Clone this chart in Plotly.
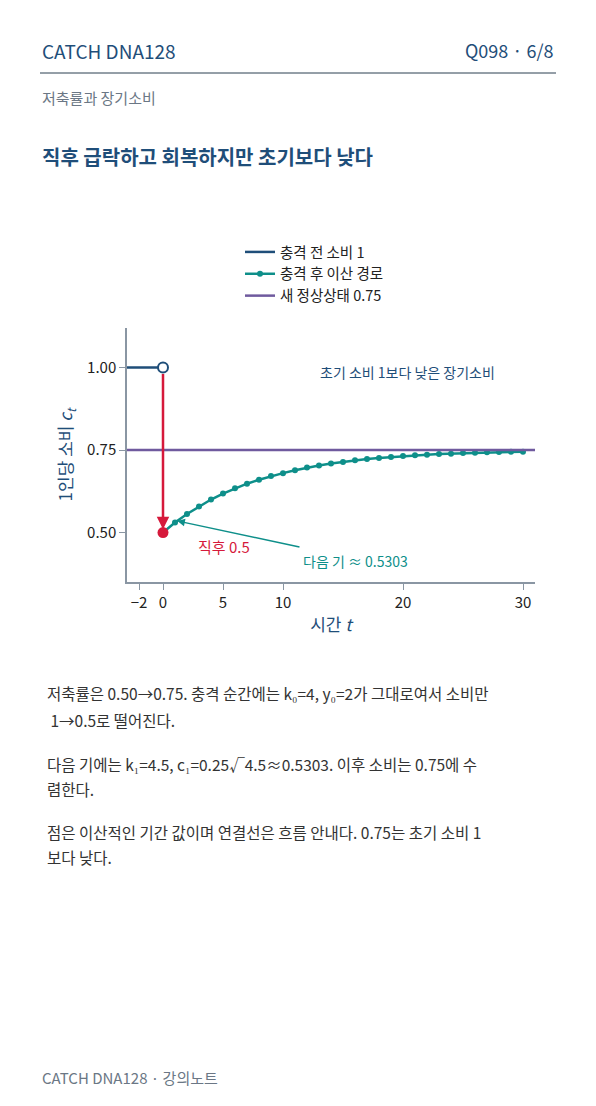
import plotly.graph_objects as go

FONT = "Noto Sans CJK KR"
NAVY = "#1f4e79"
TEAL = "#0e8f8a"
PURPLE = "#6f5a9e"
RED = "#d6193b"

# data
pre_t = [-3, 0]
pre_c = [1.0, 1.0]
path_t = list(range(0, 31))
path_c = [0.5, 0.5303, 0.556, 0.579, 0.600, 0.618, 0.634, 0.648, 0.660, 0.671,
          0.680, 0.689, 0.697, 0.703, 0.709, 0.714, 0.719, 0.723, 0.726, 0.729,
          0.732, 0.734, 0.736, 0.738, 0.739, 0.741, 0.742, 0.743, 0.744, 0.745, 0.745]
ss_t = [-3, 31]
ss_c = [0.75, 0.75]
x_ticks = [-2, 0, 5, 10, 20, 30]
y_ticks = [0.5, 0.75, 1.0]

# page offset from the browser body margin
OFF = 8
W, H = 596 - 2 * OFF, 1106 - 2 * OFF
L, R, T, B = 127, 535, 328, 582


def px(X):
    return (X - L) / (R - L)


def py(Y):
    return (B - Y) / (B - T)


fig = go.Figure()
fig.add_trace(go.Scatter(x=pre_t, y=pre_c, mode="lines", name="충격 전 소비 1",
                         line=dict(color=NAVY, width=2.5)))
fig.add_trace(go.Scatter(x=path_t, y=path_c, mode="lines+markers", name="충격 후 이산 경로",
                         line=dict(color=TEAL, width=2.5), marker=dict(size=6, color=TEAL)))
fig.add_trace(go.Scatter(x=ss_t, y=ss_c, mode="lines", name="새 정상상태 0.75",
                         line=dict(color=PURPLE, width=2.5)))
fig.add_trace(go.Scatter(x=[0], y=[1.0], mode="markers", showlegend=False,
                         marker=dict(size=10, color="white", line=dict(color=NAVY, width=2))))
fig.add_trace(go.Scatter(x=[0], y=[0.5], mode="markers", showlegend=False,
                         marker=dict(size=11, color=RED)))

ann = []
# shock arrow
ann.append(dict(x=0, y=0.51, ax=0, ay=0.985, xref="x", yref="y", axref="x", ayref="y",
                text="", showarrow=True, arrowhead=2, arrowsize=1, arrowwidth=2.5, arrowcolor=RED))
ann.append(dict(x=1.2, y=0.535, ax=11.5, ay=0.455, xref="x", yref="y", axref="x", ayref="y",
                text="", showarrow=True, arrowhead=2, arrowsize=1, arrowwidth=1.5, arrowcolor=TEAL))
ann.append(dict(x=16, y=0.415, xref="x", yref="y", text="다음 기 ≈ 0.5303", showarrow=False,
                font=dict(size=14, color=TEAL)))
ann.append(dict(x=5.1, y=0.458, xref="x", yref="y", text="직후 0.5", showarrow=False,
                font=dict(size=15, color=RED)))
ann.append(dict(x=20.4, y=0.986, xref="x", yref="y", text="초기 소비 1보다 낮은 장기소비",
                showarrow=False, font=dict(size=14, color=NAVY)))


# page texts
def txt(X, Y, s, size, color, anchor="left", bold=False):
    ann.append(dict(x=px(X), y=py(Y), xref="paper", yref="paper", xanchor=anchor,
                    yanchor="middle", text=f"<b>{s}</b>" if bold else s, showarrow=False,
                    font=dict(size=size, color=color, family=FONT), align="left"))


txt(40, 50, "CATCH DNA128", 19, NAVY)
txt(556, 50, "Q098 · 6/8", 18, NAVY, anchor="right")
txt(40, 97, "저축률과 장기소비", 15, "#6b7785")
txt(40, 156, "직후 급락하고 회복하지만 초기보다 낮다", 20, NAVY, bold=True)
body = [
    (693, "저축률은 0.50→0.75. 충격 순간에는 k₀=4, y₀=2가 그대로여서 소비만"),
    (720, " 1→0.5로 떨어진다."),
    (764, "다음 기에는 k₁=4.5, c₁=0.25√4.5≈0.5303. 이후 소비는 0.75에 수"),
    (789, "렴한다."),
    (832, "점은 이산적인 기간 값이며 연결선은 흐름 안내다. 0.75는 초기 소비 1"),
    (857, "보다 낮다."),
]
for Y, s in body:
    txt(45, Y, s, 15.5, "#333333")
txt(40, 1077, "CATCH DNA128 · 강의노트", 15, "#6b7785")

fig.update_layout(
    width=W, height=H,
    margin=dict(l=L - OFF, r=596 - OFF - R, t=T - OFF, b=1106 - OFF - B),
    paper_bgcolor="white", plot_bgcolor="white",
    font=dict(family=FONT, size=14, color="#222"),
    showlegend=True,
    legend=dict(x=px(240), y=py(236), xanchor="left", yanchor="top",
                font=dict(size=14.5, color="#222"), bgcolor="rgba(0,0,0,0)"),
    annotations=ann,
    shapes=[dict(type="line", xref="paper", yref="paper", x0=px(40), x1=px(556),
                 y0=py(73), y1=py(73), line=dict(color="#2b3e50", width=1))],
)
fig.update_xaxes(range=[-3, 31], tickvals=x_ticks, showgrid=False, zeroline=False,
                 showline=True, linecolor="#8a96a3", linewidth=1.5, ticks="outside",
                 tickcolor="#8a96a3", ticklen=6, tickfont=dict(size=15, color="#222"),
                 title=dict(text="시간 <i>t</i>", font=dict(size=17, color=NAVY), standoff=8))
fig.update_yaxes(range=[0.35, 1.12], tickvals=y_ticks, tickformat=".2f", showgrid=False,
                 zeroline=False, showline=True, linecolor="#8a96a3", linewidth=1.5,
                 ticks="outside", tickcolor="#8a96a3", ticklen=6,
                 tickfont=dict(size=15, color="#222"),
                 title=dict(text="1인당 소비 <i>c<sub>t</sub></i>", font=dict(size=17, color=NAVY),
                            standoff=10))

fig.write_html("out.html")
